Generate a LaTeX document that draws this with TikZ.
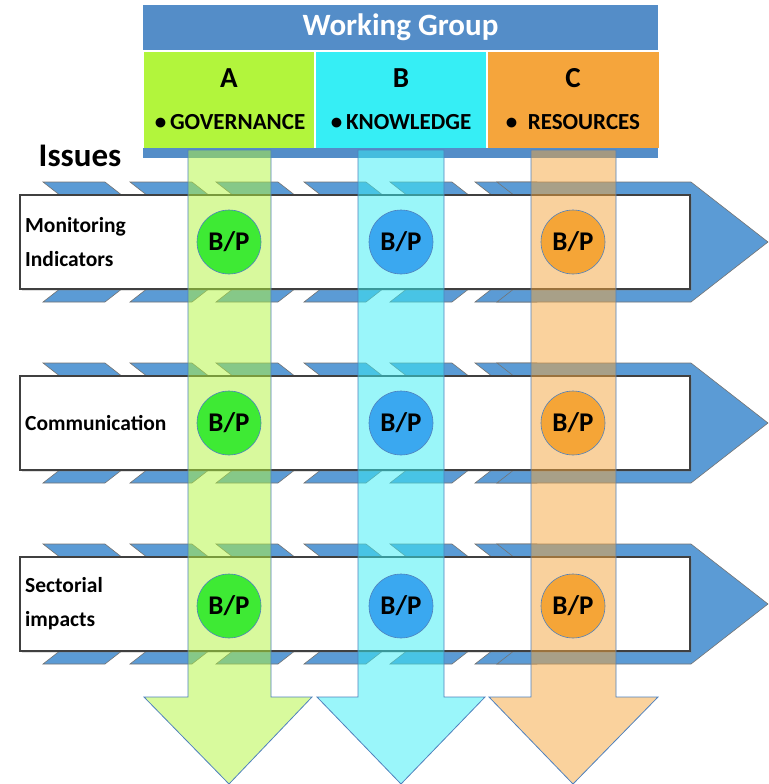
\documentclass[tikz,border=0pt]{standalone}
\usepackage{fontspec}
\setmainfont{Carlito}
\usetikzlibrary{positioning, shadows}

\definecolor{wgblue}{RGB}{84,141,200}
\definecolor{chevblue}{RGB}{91,155,213}
\definecolor{edgeblue}{RGB}{79,129,189}
\definecolor{grpa}{RGB}{178,245,60}
\definecolor{grpb}{RGB}{54,238,245}
\definecolor{grpc}{RGB}{245,165,60}
\definecolor{bpa}{RGB}{62,234,52}
\definecolor{bpb}{RGB}{58,168,240}
\definecolor{bpc}{RGB}{245,165,55}

\tikzset{
  wgbar/.style={fill=wgblue, text=white, minimum width=515pt, minimum height=45pt,
    font=\fontsize{31}{32}\selectfont\bfseries},
  groupbox/.style={minimum width=171pt, minimum height=96pt},
  letter/.style={font=\fontsize{29}{30}\selectfont\bfseries},
  topic/.style={font=\fontsize{23}{24}\selectfont\bfseries},
  issuebar/.style={fill=white, draw=black!75, line width=1.3pt,
    minimum width=670pt, minimum height=94pt,
    drop shadow={shadow xshift=2pt, shadow yshift=-2pt, opacity=0.25}},
  issuetext/.style={anchor=west, align=left, inner sep=0pt,
    font=\fontsize{21.5}{34}\selectfont\bfseries},
  chevron/.style={fill=chevblue, draw=black!55, line width=0.6pt},
  strip/.style={draw=edgeblue, line width=0.8pt, fill opacity=0.5},
  bp/.style={circle, draw=edgeblue, line width=0.6pt, minimum size=64pt, inner sep=0pt,
    font=\fontsize{27}{28}\selectfont\bfseries}
}

\begin{document}
\begin{tikzpicture}[x=1pt, y=-1pt]
   \useasboundingbox (0,0) rectangle (768,784);
   % Header
   \node[wgbar] (wg) at (400.5,27.5) {Working Group};
   \node[groupbox, fill=grpa] (ga) at (229.5,100) {};
   \node[groupbox, fill=grpb] (gb) at (401.5,100) {};
   \node[groupbox, fill=grpc] (gc) at (573.5,100) {};
   \draw[white, line width=1.5pt] (ga.north east) -- (ga.south east) (gb.north east) -- (gb.south east);
   \node[letter] (la) at (229,78) {A};
   \node[letter] (lb) at (401,78) {B};
   \node[letter] (lc) at (573,78) {C};
   \node[topic] (ta) at (230,122) {\textbullet\,GOVERNANCE};
   \node[topic] (tb) at (401,122) {\textbullet\,KNOWLEDGE};
   \node[topic] (tc) at (573,122) {\textbullet\ \ RESOURCES};
   \fill[wgblue] (143,148) rectangle (658,158);
   \node[font=\fontsize{33}{34}\selectfont\bfseries] (issues) at (80,156) {Issues};

   % Issue rows
   \foreach \y/\name in {242/mon, 423/com, 604/sec} {
     \foreach \x in {43,130,216,304,390,475}
       \draw[chevron] (\x,\y-60) -- (\x+62,\y-60) -- (\x+139,\y) -- (\x+62,\y+60)
         -- (\x,\y+60) -- (\x+77,\y) -- cycle;
     \draw[chevron] (497,\y-60) -- (691,\y-60) -- (768,\y) -- (691,\y+60)
       -- (497,\y+60) -- (574,\y) -- cycle;
     \node[issuebar] (\name) at (355,\y) {};
   }
   \node[issuetext] (lmon) at (25,242) {Monitoring\\Indicators};
   \node[issuetext] (lcom) at (25,423) {Communication};
   \node[issuetext] (lsec) at (25,604) {Sectorial\\impacts};

   % Working group arrows
   \draw[strip, fill=grpa] (188,150) -- (271,150) -- (271,697) -- (312,697) -- (229,784)
     -- (144,697) -- (188,697) -- cycle;
   \draw[strip, fill=grpb] (358,150) -- (444,150) -- (444,697) -- (485,697) -- (401,784)
     -- (317,697) -- (358,697) -- cycle;
   \draw[strip, fill=grpc] (531,150) -- (616,150) -- (616,697) -- (658,697) -- (573,784)
     -- (489,697) -- (531,697) -- cycle;

   % B/P circles
   \foreach \name/\y in {mon/242, com/423, sec/606} {
     \node[bp, fill=bpa] (\name-a) at (229,\y) {B/P};
     \node[bp, fill=bpb] (\name-b) at (401,\y) {B/P};
     \node[bp, fill=bpc] (\name-c) at (573,\y) {B/P};
   }
\end{tikzpicture}
\end{document}
